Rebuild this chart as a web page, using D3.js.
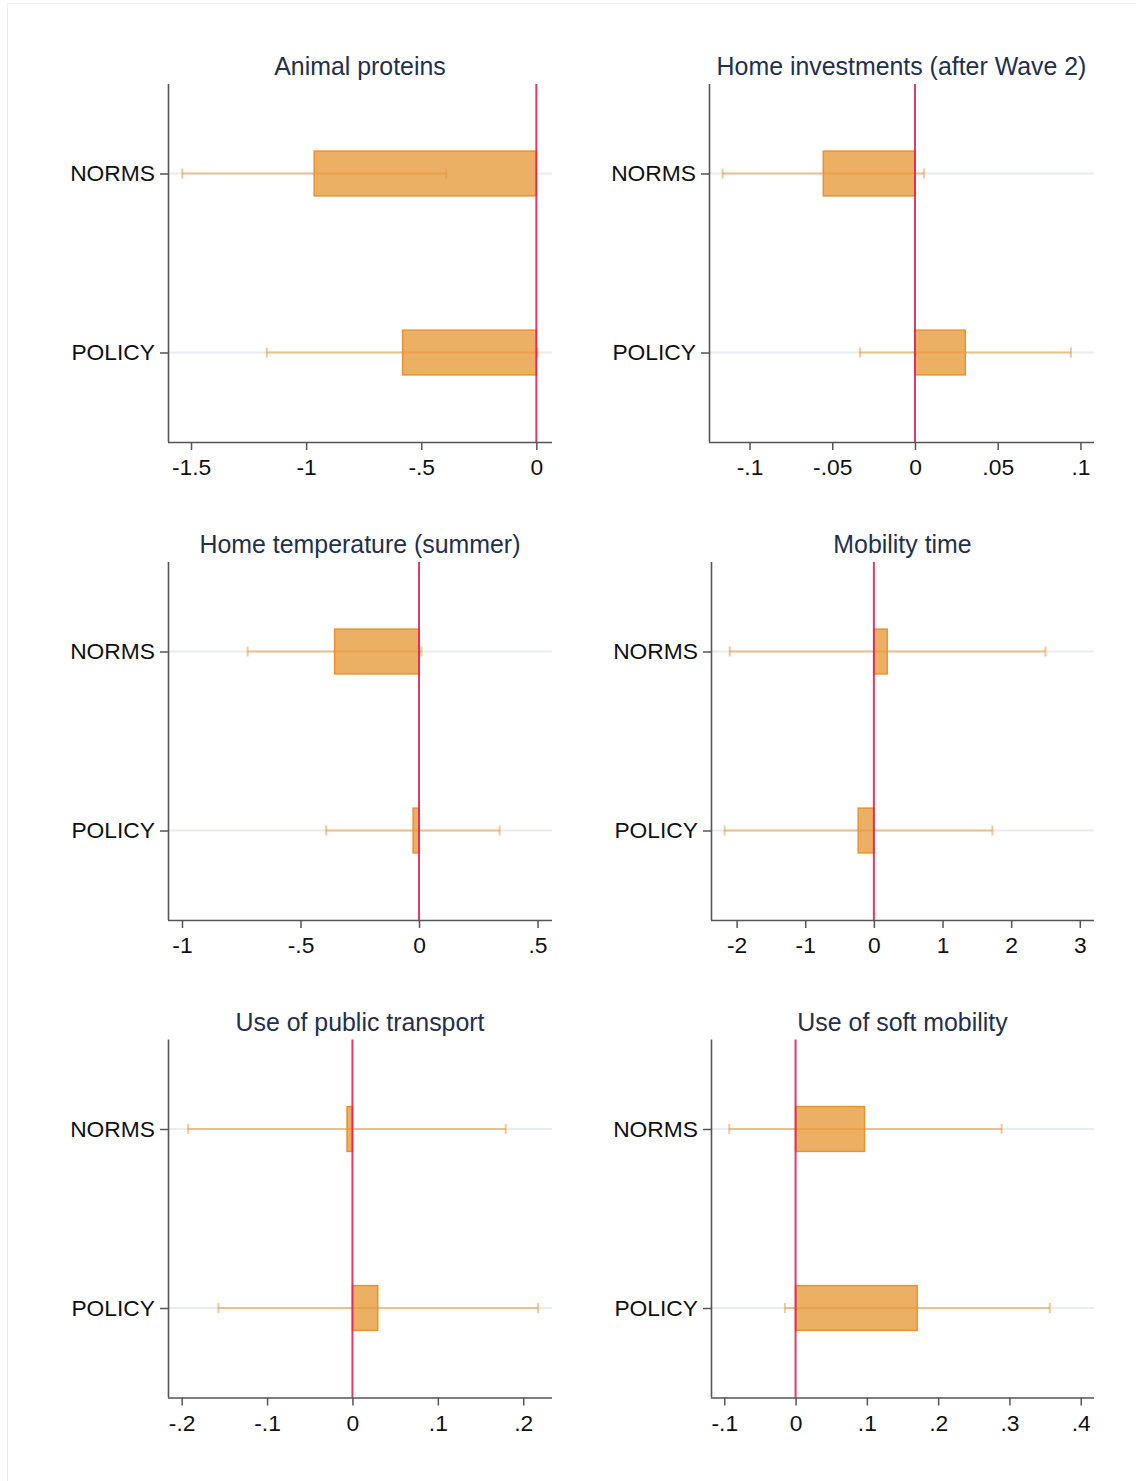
<!DOCTYPE html>
<html>
<head>
<meta charset="utf-8">
<script src="https://cdn.jsdelivr.net/npm/d3@7"></script>
<style>
  html, body { margin: 0; padding: 0; background: #fff; }
  svg { display: block; }
</style>
</head>
<body>
<svg id="chart" width="1136" height="1481"></svg>
<script>
// ---------------- data ----------------
const categories = ["NORMS", "POLICY"];

const titles = [
  "Animal proteins",
  "Home investments (after Wave 2)",
  "Home temperature (summer)",
  "Mobility time",
  "Use of public transport",
  "Use of soft mobility"
];

// point estimates [NORMS, POLICY]
const estimates = [
  [-0.965, -0.581],
  [-0.0554, 0.0304],
  [-0.356, -0.025],
  [0.194, -0.229],
  [-0.0063, 0.0296],
  [0.0967, 0.1706]
];
// lower CI bound [NORMS, POLICY]
const ciLow = [
  [-1.538, -1.171],
  [-0.1163, -0.0333],
  [-0.723, -0.392],
  [-2.10, -2.175],
  [-0.1925, -0.157],
  [-0.093, -0.0149]
];
// upper CI bound [NORMS, POLICY]
const ciHigh = [
  [-0.391, 0.005],
  [0.0054, 0.0943],
  [0.010, 0.340],
  [2.50, 1.727],
  [0.1795, 0.2174],
  [0.289, 0.3566]
];

// x-axis ticks per panel
const tickValues = [
  [-1.5, -1, -0.5, 0],
  [-0.1, -0.05, 0, 0.05, 0.1],
  [-1, -0.5, 0, 0.5],
  [-2, -1, 0, 1, 2, 3],
  [-0.2, -0.1, 0, 0.1, 0.2],
  [-0.1, 0, 0.1, 0.2, 0.3, 0.4]
];
// x-axis ranges per panel
const xDomains = [
  [-1.600, 0.068],
  [-0.1245, 0.1082],
  [-1.059, 0.561],
  [-2.373, 3.207],
  [-0.216, 0.2337],
  [-0.1186, 0.4186]
];

// ---------------- layout ----------------
const colLeft = [[168, 709], [168, 711], [168, 711]];
const colRight = [552, 1094];
const rowTop = [84, 562, 1039.5];
const plotH = 358;

const FONT = "'Liberation Sans', Arial, Helvetica, sans-serif";
const svg = d3.select("#chart");

// faint outer frame (top + left)
svg.append("line").attr("x1", 7).attr("x2", 1136).attr("y1", 3.5).attr("y2", 3.5)
  .attr("stroke", "#eeeeee").attr("stroke-width", 1);
svg.append("line").attr("x1", 7.5).attr("x2", 7.5).attr("y1", 3).attr("y2", 1481)
  .attr("stroke", "#eeeeee").attr("stroke-width", 1);

function fmt(v) {
  const s = String(+v.toFixed(4));
  return s.replace(/^(-?)0\./, "$1.");
}

titles.forEach((title, i) => {
  const row = Math.floor(i / 2), col = i % 2;
  const left = colLeft[row][col], right = colRight[col];
  const top = rowTop[row], bottom = top + plotH;

  const x = d3.scaleLinear().domain(xDomains[i]).range([left, right]);
  const y = d3.scalePoint().domain(categories).range([top, bottom]).padding(0.5);
  const barH = y.step() * 0.25;

  const g = svg.append("g");

  const rows = categories.map((c, k) => ({
    cat: c, est: estimates[i][k], lo: ciLow[i][k], hi: ciHigh[i][k]
  }));

  // gridlines
  g.selectAll(".grid").data(categories).join("line")
    .attr("x1", left).attr("x2", right)
    .attr("y1", d => y(d)).attr("y2", d => y(d))
    .attr("stroke", "#e6eef2").attr("stroke-width", 1.8);

  // bars
  g.selectAll(".bar").data(rows).join("rect")
    .attr("x", d => Math.min(x(0), x(d.est)))
    .attr("width", d => Math.abs(x(d.est) - x(0)))
    .attr("y", d => y(d.cat) - barH / 2)
    .attr("height", barH)
    .attr("fill", "#ecb064")
    .attr("stroke", "#e9922c")
    .attr("stroke-width", 1.5);

  // CI lines
  const ciColor = "rgba(238,145,45,0.5)";
  g.selectAll(".ci").data(rows).join("line")
    .attr("x1", d => x(d.lo)).attr("x2", d => x(d.hi))
    .attr("y1", d => y(d.cat)).attr("y2", d => y(d.cat))
    .attr("stroke", ciColor).attr("stroke-width", 2);
  g.selectAll(".capL").data(rows).join("line")
    .attr("x1", d => x(d.lo)).attr("x2", d => x(d.lo))
    .attr("y1", d => y(d.cat) - 5).attr("y2", d => y(d.cat) + 5)
    .attr("stroke", ciColor).attr("stroke-width", 2);
  g.selectAll(".capH").data(rows).join("line")
    .attr("x1", d => x(d.hi)).attr("x2", d => x(d.hi))
    .attr("y1", d => y(d.cat) - 5).attr("y2", d => y(d.cat) + 5)
    .attr("stroke", ciColor).attr("stroke-width", 2);

  // x axis
  const xAxis = d3.axisBottom(x).tickValues(tickValues[i]).tickFormat(fmt)
    .tickSize(8).tickSizeOuter(0).tickPadding(9);
  const ax = g.append("g").attr("transform", `translate(0,${bottom})`).call(xAxis);
  ax.select(".domain").attr("stroke", "#555").attr("stroke-width", 1.6)
    .attr("d", `M${left},0.5H${right}`);
  ax.selectAll(".tick line").attr("stroke", "#555").attr("stroke-width", 1.5);
  ax.selectAll(".tick text").attr("fill", "#111")
    .style("font-family", FONT).style("font-size", "22.8px");

  // y axis
  const yAxis = d3.axisLeft(y).tickSize(8).tickSizeOuter(0).tickPadding(5);
  const ay = g.append("g").attr("transform", `translate(${left},0)`).call(yAxis);
  ay.select(".domain").attr("stroke", "#555").attr("stroke-width", 1.6)
    .attr("d", `M0.5,${top}V${bottom}`);
  ay.selectAll(".tick line").attr("stroke", "#555").attr("stroke-width", 1.5);
  ay.selectAll(".tick text").attr("fill", "#111")
    .style("font-family", FONT).style("font-size", "22.8px");

  // zero reference line
  g.append("line")
    .attr("x1", x(0)).attr("x2", x(0)).attr("y1", top).attr("y2", bottom)
    .attr("stroke", "#d9265a").attr("stroke-width", 2).attr("stroke-opacity", 0.9);

  // title
  g.append("text")
    .attr("x", (left + right) / 2).attr("y", top - 9)
    .attr("text-anchor", "middle")
    .attr("fill", "#22304e")
    .style("font-family", FONT).style("font-size", "24.9px")
    .text(title);
});
</script>
</body>
</html>
